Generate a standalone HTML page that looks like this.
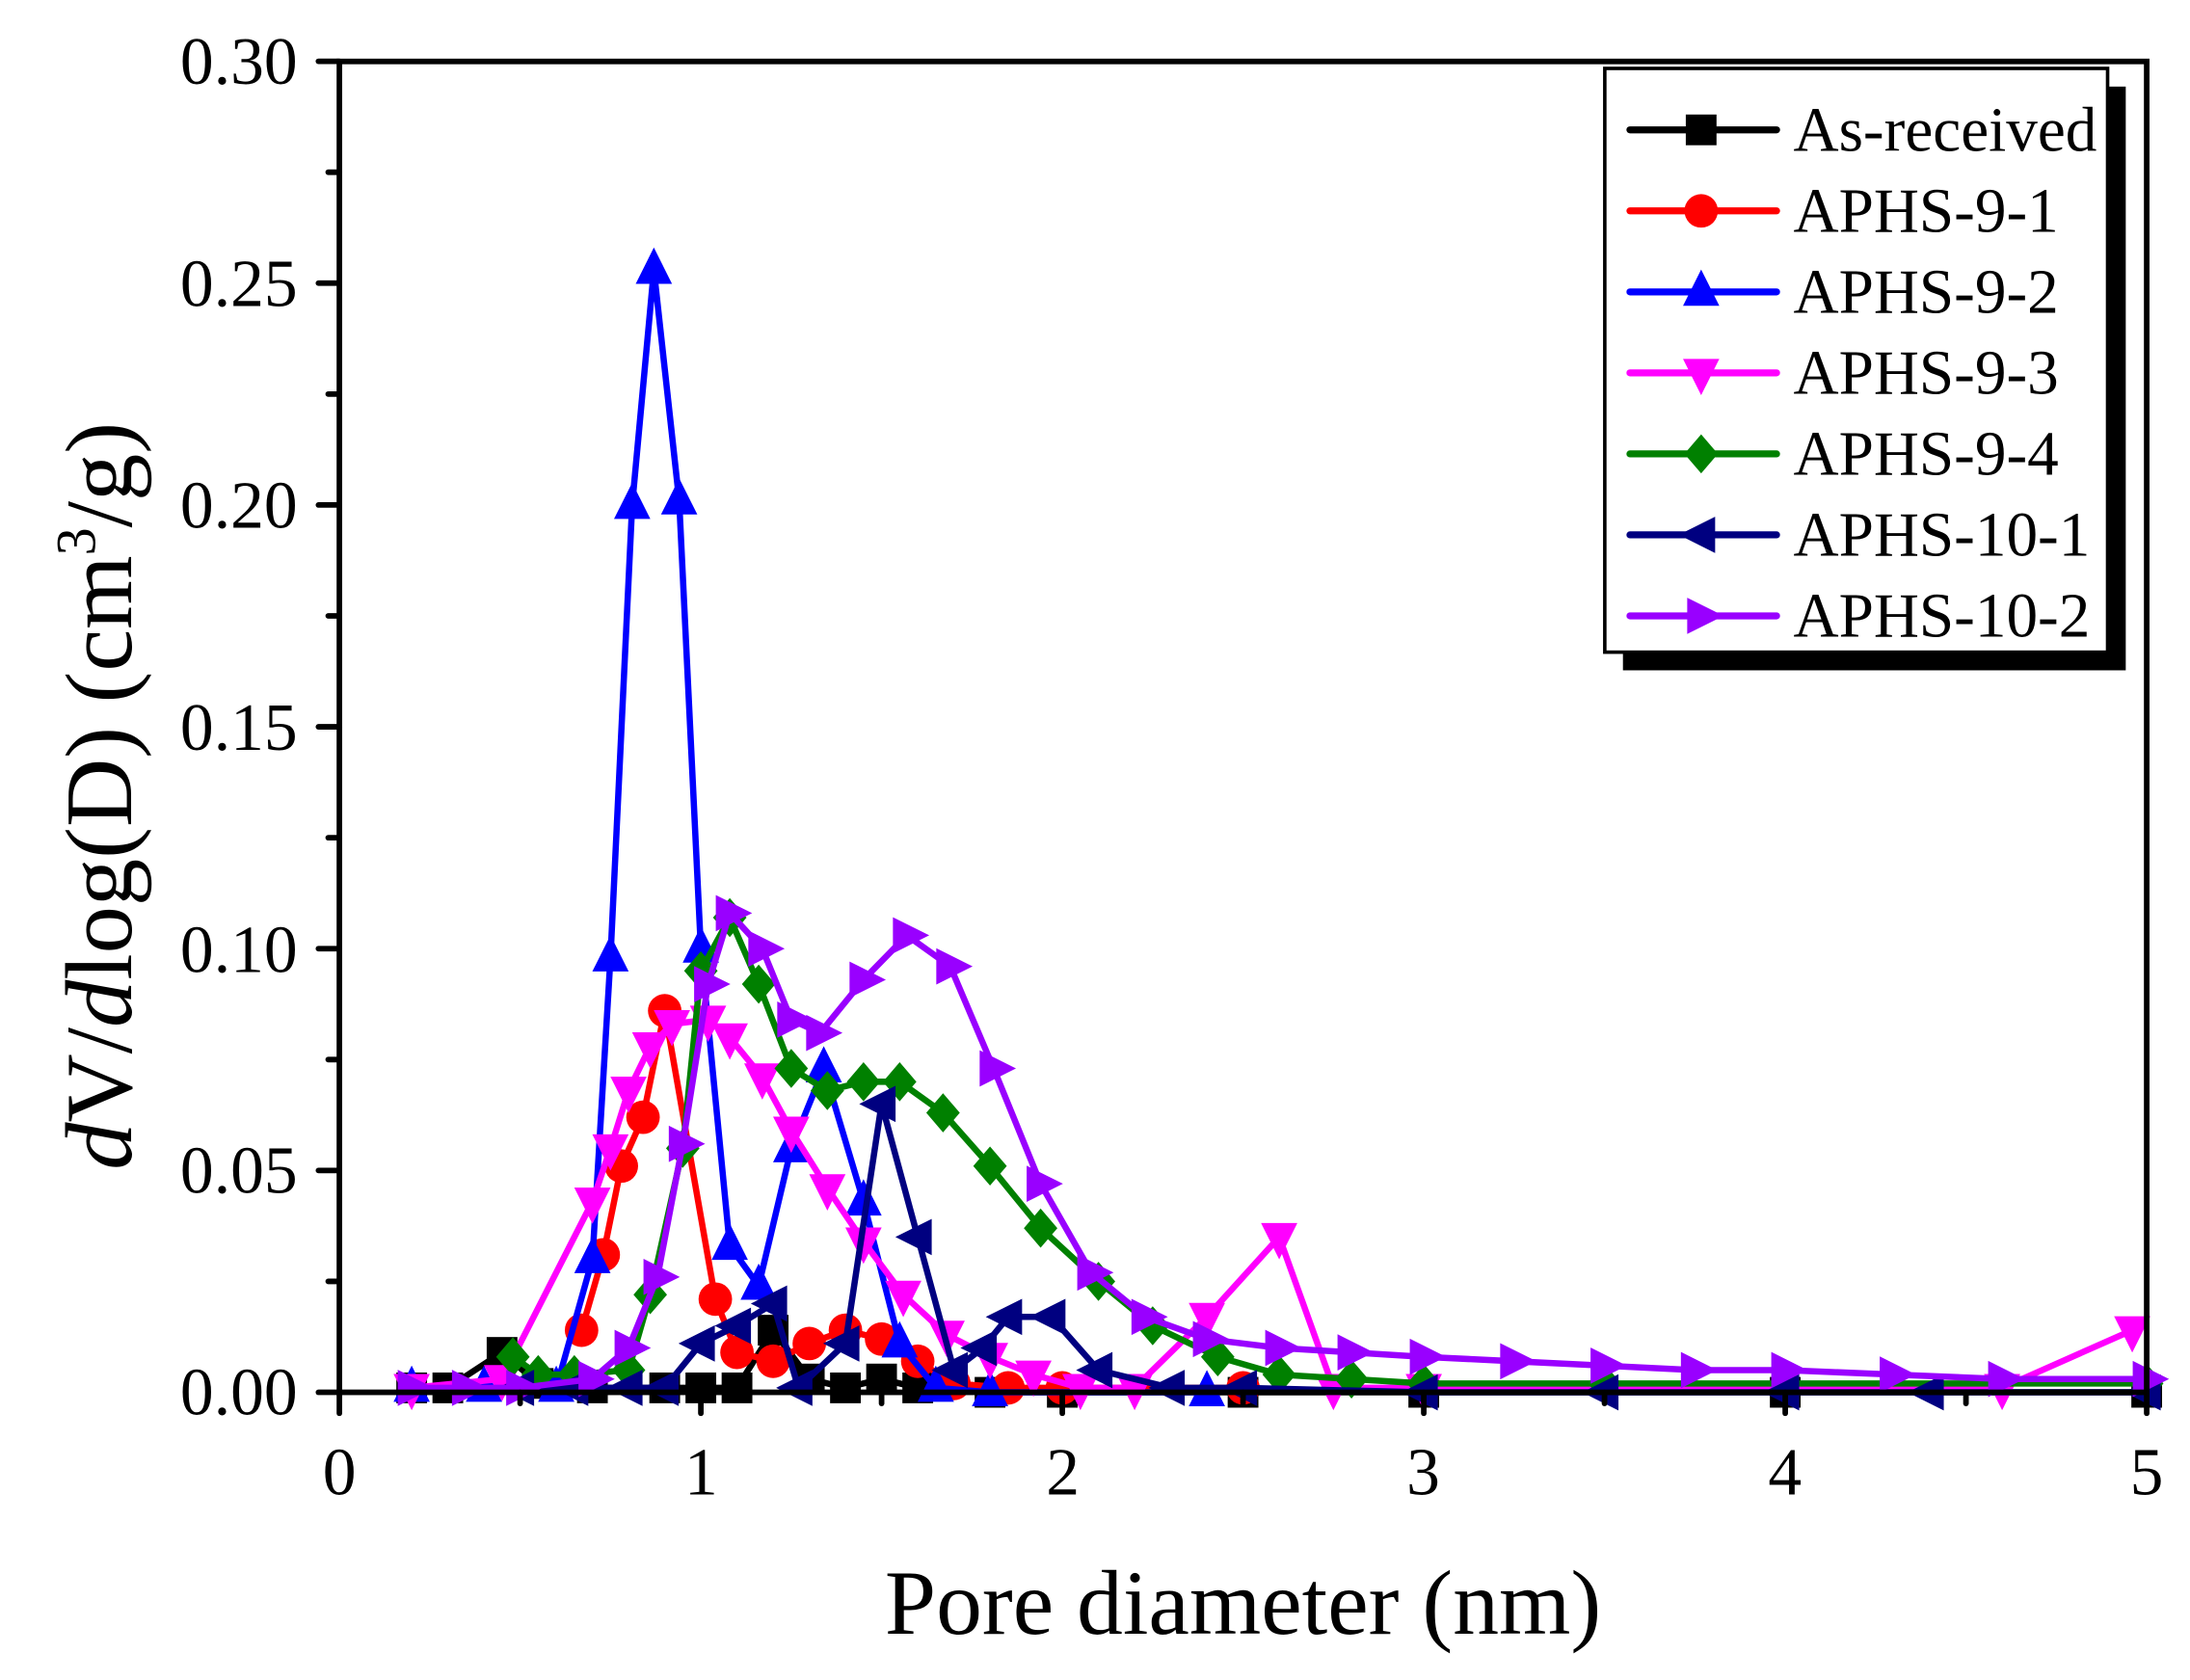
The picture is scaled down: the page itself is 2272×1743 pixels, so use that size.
<!DOCTYPE html>
<html><head><meta charset="utf-8"><style>
html,body{margin:0;padding:0;background:#fff;}
svg{display:block;}
text{font-family:"Liberation Serif",serif;fill:#000;}
</style></head><body>
<svg id="s" width="2272" height="1743" viewBox="0 0 1568 1203" preserveAspectRatio="none" xmlns="http://www.w3.org/2000/svg">
<rect width="1568" height="1203" fill="#fff"/>
<g id="plot"></g>
<g id="axes"></g>
<rect x="1162" y="62" width="360" height="418" fill="#000"/>
<rect x="1149" y="49" width="360" height="418" fill="#fff" stroke="#000" stroke-width="2.5"/>
<g id="leg"></g>
<g font-size="48" text-anchor="end">
<text x="213" y="1013">0.00</text><text x="213" y="854">0.05</text><text x="213" y="696">0.10</text>
<text x="213" y="537">0.15</text><text x="213" y="378">0.20</text><text x="213" y="219">0.25</text><text x="213" y="60">0.30</text>
</g>
<g font-size="48" text-anchor="middle">
<text x="243" y="1070">0</text><text x="502" y="1070">1</text><text x="761" y="1070">2</text>
<text x="1019" y="1070">3</text><text x="1278" y="1070">4</text><text x="1537" y="1070">5</text>
</g>
<text x="890" y="1170" font-size="66" text-anchor="middle">Pore diameter (nm)</text>
<text transform="translate(94,570) rotate(-90)" font-size="68" text-anchor="middle"><tspan font-style="italic">d</tspan>V/<tspan font-style="italic">d</tspan>log(D) (cm<tspan font-size="40" dy="-26">3</tspan><tspan dy="26">/g)</tspan></text>
</svg>
<script>
const NS="http://www.w3.org/2000/svg";
const X=v=>243+v*258.8, Y=v=>997-v*3177;
const S=[
["#000","sq","As-received",[[0.2,0.001],[0.3,0.001],[0.45,0.009],[0.55,0.002],[0.7,0.001],[0.9,0.001],[1.0,0.001],[1.1,0.001],[1.2,0.014],[1.3,0.003],[1.4,0.001],[1.5,0.003],[1.6,0.001],[1.8,0],[2.0,0],[2.5,0],[3,0],[4,0],[5,0]]],
["#f00","ci","APHS-9-1",[[0.67,0.014],[0.73,0.031],[0.78,0.051],[0.84,0.062],[0.9,0.086],[1.04,0.021],[1.1,0.009],[1.2,0.007],[1.3,0.011],[1.4,0.014],[1.5,0.012],[1.6,0.007],[1.7,0.002],[1.85,0.001],[2.0,0.001],[2.5,0.001]]],
["#00f","up","APHS-9-2",[[0.2,0.001],[0.4,0.001],[0.6,0.001],[0.7,0.03],[0.75,0.098],[0.81,0.2],[0.87,0.253],[0.94,0.201],[1.0,0.1],[1.08,0.033],[1.16,0.024],[1.25,0.055],[1.34,0.073],[1.45,0.043],[1.55,0.011],[1.65,0.001],[1.8,0],[2.4,0]]],
["#f0f","dn","APHS-9-3",[[0.2,0.001],[0.45,0.003],[0.7,0.043],[0.75,0.055],[0.8,0.068],[0.86,0.078],[0.92,0.083],[1.02,0.084],[1.08,0.08],[1.17,0.071],[1.25,0.059],[1.35,0.046],[1.45,0.034],[1.56,0.022],[1.68,0.013],[1.8,0.008],[1.92,0.004],[2.05,0.001],[2.2,0.001],[2.4,0.017],[2.6,0.035],[2.75,0.001],[3.0,0.001],[4.6,0.001],[4.96,0.014]]],
["#008000","di","APHS-9-4",[[0.48,0.008],[0.55,0.004],[0.65,0.004],[0.8,0.005],[0.86,0.022],[0.95,0.055],[1.0,0.095],[1.08,0.107],[1.16,0.092],[1.25,0.073],[1.35,0.068],[1.45,0.07],[1.55,0.07],[1.67,0.063],[1.8,0.051],[1.94,0.037],[2.1,0.025],[2.25,0.015],[2.43,0.008],[2.6,0.004],[2.8,0.003],[3.0,0.002],[3.5,0.002],[4,0.002],[5,0.002]]],
["#000080","lt","APHS-10-1",[[0.5,0.001],[0.65,0.001],[0.8,0.001],[0.9,0.001],[1.0,0.011],[1.1,0.015],[1.2,0.02],[1.27,0.001],[1.4,0.011],[1.5,0.065],[1.6,0.035],[1.7,0.005],[1.78,0.01],[1.85,0.017],[1.97,0.017],[2.1,0.005],[2.3,0.001],[2.5,0.001],[3,0],[3.5,0],[4,0],[4.4,0],[5,0]]],
["#90f","rt","APHS-10-2",[[0.2,0.001],[0.35,0.001],[0.5,0.001],[0.7,0.003],[0.8,0.01],[0.88,0.026],[0.95,0.056],[1.02,0.092],[1.08,0.108],[1.17,0.1],[1.25,0.084],[1.33,0.081],[1.45,0.093],[1.57,0.103],[1.69,0.096],[1.81,0.073],[1.94,0.047],[2.08,0.027],[2.23,0.017],[2.4,0.012],[2.6,0.01],[2.8,0.009],[3.0,0.008],[3.25,0.007],[3.5,0.006],[3.75,0.005],[4,0.005],[4.3,0.004],[4.6,0.003],[5,0.003]]]
];
function el(t,a,p){const e=document.createElementNS(NS,t);for(const k in a)e.setAttribute(k,a[k]);p.appendChild(e);return e;}
function mk(type,x,y,c,p){const r=13;
 if(type=="sq")el("rect",{x:x-11,y:y-11,width:22,height:22,fill:c},p);
 else if(type=="ci")el("circle",{cx:x,cy:y,r:12,fill:c},p);
 else{let pts;
  if(type=="up")pts=[[x,y-r-3],[x-r,y+r-3],[x+r,y+r-3]];
  if(type=="dn")pts=[[x,y+r+3],[x-r,y-r+3],[x+r,y-r+3]];
  if(type=="lt")pts=[[x-r-3,y],[x+r-3,y-r],[x+r-3,y+r]];
  if(type=="rt")pts=[[x+r+3,y],[x-r+3,y-r],[x-r+3,y+r]];
  if(type=="di")pts=[[x,y-14],[x+12,y],[x,y+14],[x-12,y]];
  el("polygon",{points:pts.map(q=>q.join(",")).join(" "),fill:c},p);}
}
const P=document.getElementById("plot"),L=document.getElementById("leg");
S.forEach((s,i)=>{
 const g=el("g",{},P);
 el("polyline",{points:s[3].map(d=>X(d[0])+","+Y(d[1])).join(" "),fill:"none",stroke:s[0],"stroke-width":4.5,"stroke-linejoin":"round"},g);
 s[3].forEach(d=>mk(s[1],X(d[0]),Y(d[1]),s[0],g));
 const y=93+i*58;
 el("line",{x1:1167,y1:y,x2:1272,y2:y,stroke:s[0],"stroke-width":5,"stroke-linecap":"round"},L);
 mk(s[1],1218,y,s[0],L);
 const t=el("text",{x:1284,y:y+15,"font-size":45},L);t.textContent=s[2];
});
const A=document.getElementById("axes");
el("rect",{x:243,y:44,width:1294,height:953,fill:"none",stroke:"#000","stroke-width":4},A);
for(let i=0;i<=10;i++){const x=X(i*0.5);el("line",{x1:x,y1:997,x2:x,y2:997+(i%2?8:15),stroke:"#000","stroke-width":4,"stroke-linecap":"round"},A);}
for(let i=0;i<=12;i++){const y=Y(i*0.025);el("line",{x1:243,y1:y,x2:243-(i%2?8:15),y2:y,stroke:"#000","stroke-width":4,"stroke-linecap":"round"},A);}
</script>
</body></html>
